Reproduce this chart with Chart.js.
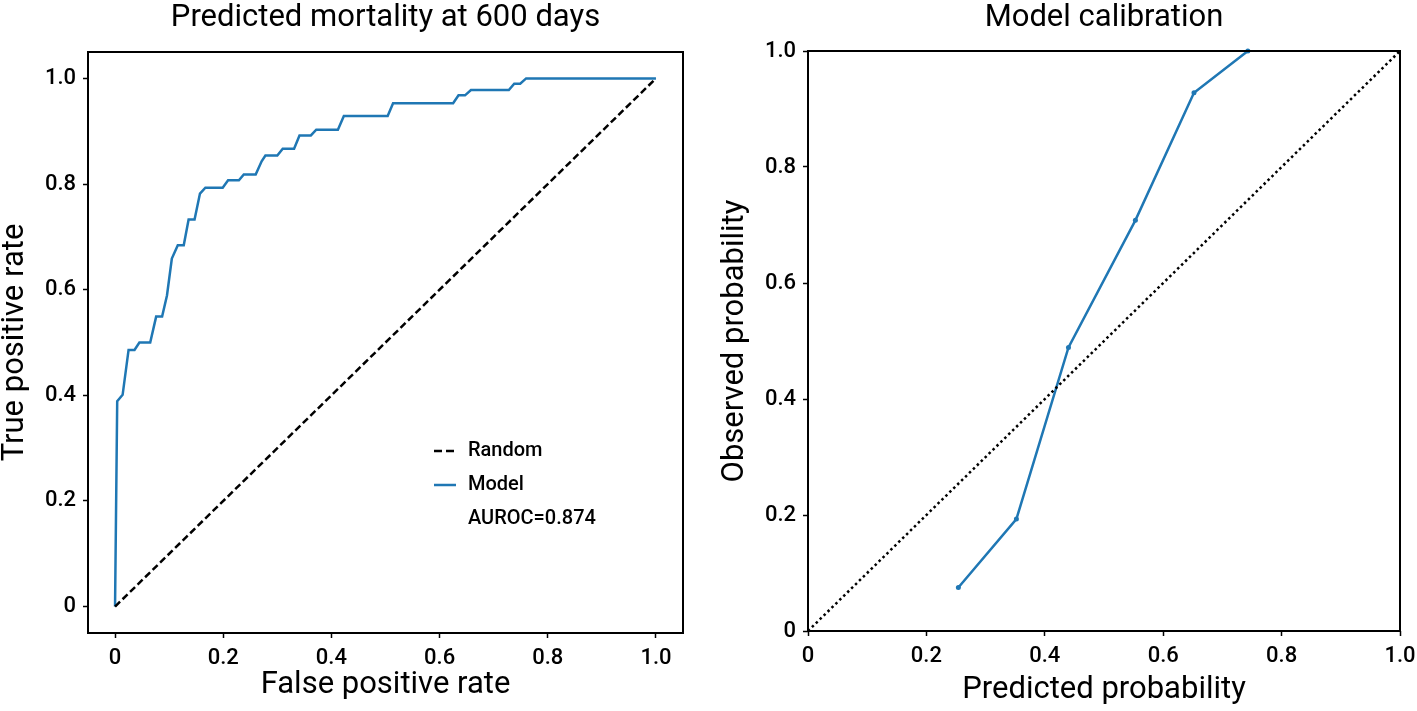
<!DOCTYPE html>
<html>
<head>
<meta charset="utf-8">
<script src="https://cdn.jsdelivr.net/npm/chart.js@4.4.1/dist/chart.umd.min.js"></script>
<style>
html, body { margin:0; padding:0; background:#fff; overflow:hidden; width:1417px; height:711px; }
#rocChart { position:absolute; left:0; top:0; }
#calChart { position:absolute; left:720px; top:0; }
</style>
</head>
<body>
<canvas id="rocChart" width="710" height="711"></canvas>
<canvas id="calChart" width="720" height="711"></canvas>
<script>
// ROC curve (false positive rate / true positive rate)
var rocFpr = [0, 0.004, 0.014, 0.025, 0.036, 0.045, 0.065, 0.076, 0.087, 0.096,
	0.105, 0.116, 0.127, 0.136, 0.147, 0.157, 0.167, 0.199, 0.209, 0.229,
	0.238, 0.260, 0.271, 0.278, 0.300, 0.310, 0.331, 0.341, 0.362, 0.372,
	0.412, 0.423, 0.504, 0.514, 0.625, 0.635, 0.647, 0.658, 0.728, 0.738,
	0.749, 0.760, 1.0];
var rocTpr = [0, 0.389, 0.401, 0.486, 0.486, 0.500, 0.500, 0.549, 0.549, 0.589,
	0.659, 0.684, 0.684, 0.733, 0.733, 0.782, 0.793, 0.793, 0.807, 0.807,
	0.818, 0.818, 0.843, 0.854, 0.854, 0.867, 0.867, 0.892, 0.892, 0.903,
	0.903, 0.929, 0.929, 0.953, 0.953, 0.968, 0.968, 0.978, 0.978, 0.990,
	0.990, 1.0, 1.0];
var randomX = [0, 1];
var randomY = [0, 1];
var auroc = 0.874;

// calibration
var calPred = [0.254, 0.352, 0.440, 0.553, 0.652, 0.743];
var calObs = [0.075, 0.193, 0.489, 0.708, 0.928, 1.0];
var diagX = [0, 1];
var diagY = [0, 1];

var tickValues = [0, 0.2, 0.4, 0.6, 0.8, 1.0];
var legendLabels = ["Random", "Model", "AUROC=" + auroc];

var FONT = "Roboto";
var BLUE = "#1f77b4";

function toPoints(xs, ys){
	var pts = [];
	for (var i=0;i<xs.length;i++){
		pts.push({x: xs[i], y: ys[i]});
	}
	return pts;
}

function tickLabel(v){
	return v == 0 ? "0" : v.toFixed(1);
}

function makeAxis(title, min, max, size, titlePad){
	return {
		type: 'linear',
		min: min,
		max: max,
		afterBuildTicks: function(scale){
			scale.ticks = tickValues.map(function(v){ return {value: v}; });
		},
		afterFit: function(scale){
			if (scale.isHorizontal()) scale.height = size;
			else scale.width = size;
		},
		grid: { drawOnChartArea: false, drawTicks: true, tickLength: 5, tickWidth: 1.5, tickColor: '#000' },
		border: { display: false },
		ticks: { color: '#000', padding: 7, font: { family: FONT, size: 22, weight: '500' }, callback: tickLabel, maxRotation: 0 },
		title: { display: true, text: title, color: '#000', padding: titlePad, font: { family: FONT, size: 31, weight: 'normal' } }
	};
}

var framePlugin = {
	id: 'frame',
	afterDatasetsDraw: function(chart){
		var a = chart.chartArea, ctx = chart.ctx;
		ctx.save();
		ctx.strokeStyle = '#000';
		ctx.lineWidth = 2;
		ctx.strokeRect(a.left, a.top, a.right - a.left, a.bottom - a.top);
		ctx.restore();
	}
};

var rocLegend = {
	id: 'rocLegend',
	afterDraw: function(chart){
		var ctx = chart.ctx;
		var x0 = 434, x1 = 456, tx = 468, y = 451, step = 34;
		ctx.save();
		ctx.lineWidth = 2.5;
		ctx.strokeStyle = '#000';
		ctx.setLineDash([8, 4]);
		ctx.beginPath(); ctx.moveTo(x0, y); ctx.lineTo(x1, y); ctx.stroke();
		ctx.setLineDash([]);
		ctx.strokeStyle = BLUE;
		ctx.beginPath(); ctx.moveTo(x0, y + step); ctx.lineTo(x1, y + step); ctx.stroke();
		ctx.fillStyle = '#000';
		ctx.font = "500 20px " + FONT;
		ctx.textBaseline = 'middle';
		ctx.textAlign = 'left';
		for (var i=0;i<legendLabels.length;i++){
			ctx.fillText(legendLabels[i], tx, y + step*i);
		}
		ctx.restore();
	}
};

function titleOpts(text, bottomPad){
	return { display: true, fullSize: false, text: text, color: '#000', font: { family: FONT, size: 31, weight: 'normal' }, padding: { top: 0, bottom: bottomPad } };
}

new Chart(document.getElementById("rocChart"), {
	type: 'scatter',
	data: {
		datasets: [{
			label: 'Random',
			data: toPoints(randomX, randomY),
			showLine: true,
			borderColor: '#000',
			borderWidth: 2.5,
			borderDash: [7, 3.5],
			pointRadius: 0
		}, {
			label: 'Model',
			data: toPoints(rocFpr, rocTpr),
			showLine: true,
			borderColor: BLUE,
			borderWidth: 2.5,
			pointRadius: 0
		}]
	},
	options: {
		responsive: false,
		animation: false,
		devicePixelRatio: 1,
		layout: { padding: { left: 0, right: 27, top: 0, bottom: 0 } },
		plugins: {
			legend: { display: false },
			tooltip: { enabled: false },
			title: titleOpts("Predicted mortality at 600 days", 14.8)
		},
		scales: {
			x: makeAxis("False positive rate", -0.05, 1.05, 78, { top: 0, bottom: 7.4 }),
			y: makeAxis("True positive rate", -0.05, 1.05, 88, { top: -3.6, bottom: 0 })
		}
	},
	plugins: [framePlugin, rocLegend]
});

new Chart(document.getElementById("calChart"), {
	type: 'scatter',
	data: {
		datasets: [{
			label: 'Perfect',
			data: toPoints(diagX, diagY),
			showLine: true,
			borderColor: '#000',
			borderWidth: 2.5,
			borderDash: [2.5, 3],
			pointRadius: 0
		}, {
			label: 'Model',
			data: toPoints(calPred, calObs),
			showLine: true,
			clip: 4,
			borderColor: BLUE,
			backgroundColor: BLUE,
			borderWidth: 2.5,
			pointRadius: 2.5,
			pointBorderWidth: 0
		}]
	},
	options: {
		responsive: false,
		animation: false,
		devicePixelRatio: 1,
		layout: { padding: { left: 0, right: 40, top: 0, bottom: 0 } },
		plugins: {
			legend: { display: false },
			tooltip: { enabled: false },
			title: titleOpts("Model calibration", 13.8)
		},
		scales: {
			x: makeAxis("Predicted probability", 0, 1, 80, { top: 0, bottom: 2.4 }),
			y: makeAxis("Observed probability", 0, 1, 88, { top: -3.6, bottom: 0 })
		}
	},
	plugins: [framePlugin]
});
</script>
</body>
</html>
